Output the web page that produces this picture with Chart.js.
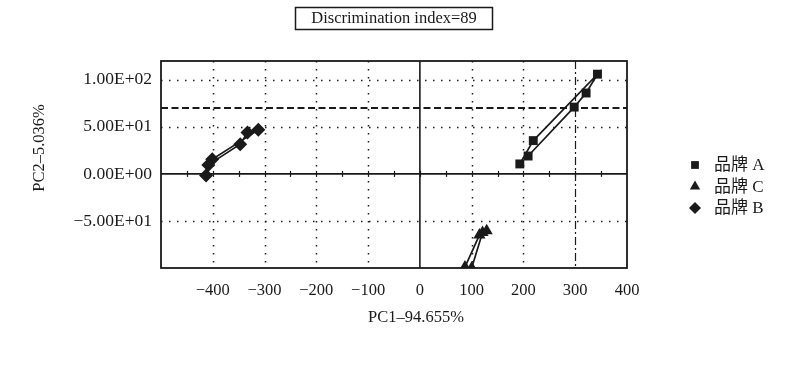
<!DOCTYPE html>
<html>
<head>
<meta charset="utf-8">
<script src="https://cdn.jsdelivr.net/npm/chart.js@4.4.1/dist/chart.umd.min.js"></script>
<style>
  html, body { margin: 0; padding: 0; background: #fff; }
</style>
</head>
<body>
<canvas id="pcaChart" width="800" height="374"></canvas>
<script>
// ── Data ──────────────────────────────────────────────────────────────────────

const chartTitle = 'Discrimination index=89';
const xTitle = 'PC1–94.655%';
const yTitle = 'PC2–5.036%';

const seriesNames = ['品牌 A', '品牌 C', '品牌 B'];
const seriesStyles = ['rect', 'triangle', 'rectRot'];

const brandAX = [193, 219, 343, 321, 298, 209];
const brandAY = [10.6, 35.4, 106, 86, 71, 19];

const brandCX = [87, 115, 129, 121, 100];
const brandCY = [-99, -65, -60.3, -62.4, -100];

const brandBX = [-413, -401, -312, -333, -347, -408.6];
const brandBY = [-1.8, 15.6, 46.8, 43.9, 31.6, 9.6];

const xTickValues = [-400, -300, -200, -100, 0, 100, 200, 300, 400];
const yTickValues = [-50, 0, 50, 100];
const xGridValues = [-400, -300, -200, -100, 100, 200];
const yGridValues = [-50, 50, 100];
const xMarkerValue = 300;   // dash-dot vertical
const yThreshold = 70;      // dashed horizontal
const zeroTickStep = 50;

const ink = '#1a1a1a';
const serif = "'Liberation Serif', 'Noto Sans CJK SC', serif";

// ── Helpers ───────────────────────────────────────────────────────────────────

function toPoints(xs, ys) {
    return xs.map((x, i) => ({ x, y: ys[i] }));
}

function sciLabel(v) {
    if (v === 0) return '0.00E+00';
    const e = Math.floor(Math.log10(Math.abs(v)));
    const m = v / Math.pow(10, e);
    return (m < 0 ? '−' : '') + Math.abs(m).toFixed(2) + 'E' + (e < 0 ? '-' : '+') + String(Math.abs(e)).padStart(2, '0');
}

function line(ctx, x1, y1, x2, y2) {
    ctx.beginPath();
    ctx.moveTo(x1, y1);
    ctx.lineTo(x2, y2);
    ctx.stroke();
}

// ── Decorations ───────────────────────────────────────────────────────────────

const framePlugin = {
    id: 'frame',
    beforeDatasetsDraw(chart) {
        const { ctx, chartArea: a, scales: { x, y } } = chart;
        ctx.save();
        ctx.strokeStyle = ink;

        // dotted grid
        ctx.lineWidth = 1.5;
        ctx.setLineDash([1.5, 6.5]);
        xGridValues.forEach((v) => {
            const px = Math.round(x.getPixelForValue(v)) + 0.5;
            line(ctx, px, a.top, px, a.bottom);
        });
        yGridValues.forEach((v) => {
            const py = Math.round(y.getPixelForValue(v)) + 0.5;
            line(ctx, a.left, py, a.right, py);
        });

        // dash-dot marker and dashed threshold
        ctx.lineWidth = 1.2;
        ctx.setLineDash([8, 3, 2, 3]);
        const mx = Math.round(x.getPixelForValue(xMarkerValue)) + 0.5;
        line(ctx, mx, a.top, mx, a.bottom);

        ctx.lineWidth = 2;
        ctx.setLineDash([7, 3.5]);
        const ty = Math.round(y.getPixelForValue(yThreshold));
        line(ctx, a.left, ty, a.right, ty);

        // zero axes
        ctx.setLineDash([]);
        ctx.lineWidth = 1.6;
        const zx = x.getPixelForValue(0);
        const zy = y.getPixelForValue(0);
        line(ctx, zx, a.top, zx, a.bottom);
        line(ctx, a.left, zy, a.right, zy);
        ctx.lineWidth = 1.2;
        for (let v = x.min + zeroTickStep; v < x.max; v += zeroTickStep) {
            const px = Math.round(x.getPixelForValue(v)) + 0.5;
            line(ctx, px, zy - 3, px, zy + 3);
        }

        // plot frame
        ctx.lineWidth = 1.8;
        ctx.strokeRect(a.left, a.top, a.right - a.left, a.bottom - a.top);
        ctx.restore();
    },
    afterDraw(chart) {
        const { ctx } = chart;
        ctx.save();
        ctx.fillStyle = ink;
        ctx.strokeStyle = ink;
        ctx.font = `16.5px ${serif}`;
        ctx.textBaseline = 'middle';

        // title box
        ctx.lineWidth = 1.5;
        ctx.strokeRect(295.5, 7.5, 197, 22);
        ctx.textAlign = 'center';
        ctx.fillText(chartTitle, 394, 19);

        // axis titles
        ctx.fillText(xTitle, 416, 318);
        ctx.save();
        ctx.translate(40, 148);
        ctx.rotate(-Math.PI / 2);
        ctx.fillText(yTitle, 0, 0);
        ctx.restore();

        // legend
        ctx.font = `17px ${serif}`;
        ctx.textAlign = 'left';
        chart.data.datasets.forEach((ds, i) => {
            const cy = 165 + i * 21.5;
            Chart.helpers.drawPoint(ctx, {
                pointStyle: ds.pointStyle,
                radius: ds.pointStyle === 'rect' ? 5.5 : 6,
                rotation: 0,
                borderWidth: 0,
            }, 695, cy);
            ctx.fillText(ds.label, 714, cy + 1);
        });
        ctx.restore();
    },
};

// ── Chart ─────────────────────────────────────────────────────────────────────

const allX = [brandAX, brandCX, brandBX];
const allY = [brandAY, brandCY, brandBY];

new Chart(document.getElementById('pcaChart'), {
    type: 'scatter',
    data: {
        datasets: seriesNames.map((name, i) => ({
            label: name,
            data: toPoints(allX[i], allY[i]),
            showLine: true,
            borderColor: ink,
            borderWidth: 1.7,
            backgroundColor: ink,
            pointStyle: seriesStyles[i],
            pointRadius: seriesStyles[i] === 'rect' ? 6.3 : 7,
            pointBorderWidth: 0,
            pointBackgroundColor: ink,
            tension: 0,
        })),
    },
    options: {
        responsive: false,
        animation: false,
        devicePixelRatio: 1,
        layout: { padding: { top: 61, right: 173, bottom: 0, left: 0 } },
        font: { family: serif },
        plugins: {
            legend: { display: false },
            title: { display: false },
            tooltip: { enabled: false },
        },
        scales: {
            x: {
                type: 'linear',
                min: -500,
                max: 400,
                afterBuildTicks(scale) {
                    scale.ticks = xTickValues.map((value) => ({ value }));
                },
                afterFit(scale) { scale.height = 106; },
                grid: { display: false, drawTicks: false },
                border: { display: false },
                ticks: {
                    padding: 13,
                    color: ink,
                    font: { family: serif, size: 16.5 },
                    maxRotation: 0,
                    callback: (v) => (v < 0 ? '−' + Math.abs(v) : String(v)),
                },
            },
            y: {
                type: 'linear',
                min: -100,
                max: 120,
                afterBuildTicks(scale) {
                    scale.ticks = yTickValues.map((value) => ({ value }));
                },
                afterFit(scale) { scale.width = 161; },
                grid: { display: false, drawTicks: false },
                border: { display: false },
                ticks: {
                    padding: 9,
                    color: ink,
                    font: { family: serif, size: 17.5 },
                    callback: (v) => sciLabel(v),
                },
            },
        },
    },
    plugins: [framePlugin],
});
</script>
</body>
</html>
